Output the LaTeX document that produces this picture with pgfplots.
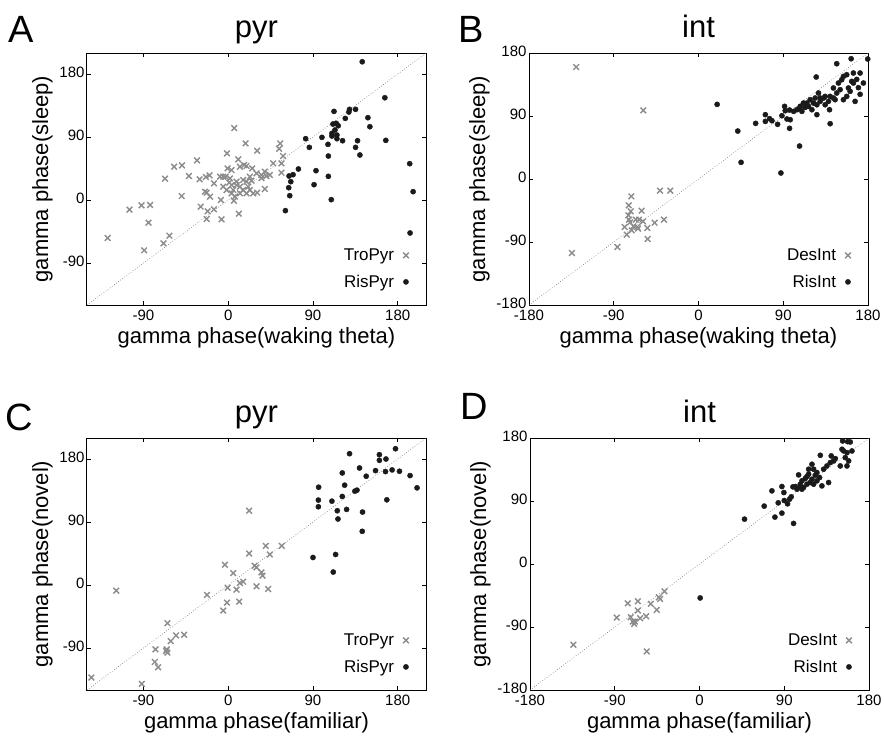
\documentclass[border=0pt]{standalone}
\usepackage{pgfplots}
\pgfplotsset{compat=1.18}
\usepackage{fontspec}
\setmainfont{Liberation Sans}
\definecolor{crossgray}{HTML}{8C8C8C}
\definecolor{dotblack}{HTML}{1A1A1A}
\pgfplotsset{
  panel/.style={
    scale only axis, width=339pt, height=252pt,
    anchor=south west,
    tick align=inside, major tick length=4pt,
    axis line style={line width=1pt},
    every tick/.style={black, line width=0.8pt},
    /pgf/number format/assume math mode=true,
    ticklabel style={font=\fontsize{15}{18}\selectfont},
    yticklabel style={xshift=1pt, yshift=1.5pt},
    xticklabel style={yshift=-1.5pt},
    label style={font=\fontsize{22}{26}\selectfont},
    title style={font=\fontsize{31}{36}\selectfont, at={(0.5,1)}, anchor=base, yshift=10pt},
    legend style={draw=none, fill=none, font=\fontsize{17}{20}\selectfont,
      at={(1,0)}, anchor=south east, xshift=-14pt, yshift=12pt, row sep=9pt,
      column sep=7pt, legend cell align=right},
    legend plot pos=right,
  },
  pyrax/.style={panel, xmin=-150, xmax=210, ymin=-150, ymax=210,
    xtick={-90,0,90,180}, ytick={-90,0,90,180}},
  intax/.style={panel, xmin=-180, xmax=180, ymin=-180, ymax=180,
    xtick={-180,-90,0,90,180}, ytick={-180,-90,0,90,180}},
  tro/.style={only marks, mark=x, mark size=4pt, color=crossgray, line width=1.4pt},
  ris/.style={only marks, mark=*, mark size=2.6pt, color=dotblack},
  diag/.style={black!60, dotted, line width=0.6pt, forget plot},
}
\begin{document}
\begin{tikzpicture}
\path[use as bounding box] (0pt,0pt) rectangle (884pt,-740pt);

% A
\node[anchor=base west, font=\fontsize{38}{44}\selectfont, inner sep=0pt] at (8pt,-42pt) {A};
\begin{axis}[pyrax, at={(87pt,-305pt)}, title={pyr},
  xlabel={gamma phase(waking theta)}, ylabel={gamma phase(sleep)}]
\addplot[diag] coordinates {(-150,-150) (210,210)};
\addplot[tro] coordinates {
(6.4,102.8) (18.4,80.9) (55.1,80.9) (54.0,73.3) (30.7,70.4) (-1.4,66.6) (58.2,62.8)
(10.6,58.1) (16.9,50.0) (19.4,48.6) (-33.2,56.6) (-57.5,47.6) (-49.1,49.5) (-67.1,30.5)
(-41.7,34.3) (-30.4,29.5) (-23.7,32.8) (-19.8,35.2) (-15.2,23.8) (-8.8,33.3) (-5.3,33.3)
(-2.8,33.3) (1.8,30.9) (3.5,42.8) (-0.7,45.2) (12.4,47.6) (25.4,45.2) (30.0,38.1)
(38.8,40.5) (44.1,35.7) (47.7,52.4) (56.5,52.4) (56.5,39.0) (40.6,34.3) (35.3,31.4)
(22.9,33.3) (19.4,26.2) (21.2,19.0) (12.4,19.0) (8.8,21.4) (5.3,14.3) (3.5,9.5)
(7.1,4.8) (12.4,9.5) (19.4,9.5) (26.5,9.5) (30.7,10.5) (38.8,15.7) (-24.7,11.9)
(-19.4,4.8) (-22.9,10.5) (-7.8,0) (6.0,-1.0) (-49.4,5.7) (-83.0,-7.1) (-92.1,-7.6)
(-104.8,-13.8) (-29.3,-9.5) (-21.9,-16.2) (-15.2,-13.3) (-22.9,-27.1) (-7.1,-27.6)
(11.3,-19.5) (-84.7,-32.4) (-62.5,-50.9) (-68.8,-61.9) (-89.3,-71.9) (-128.1,-54.3)
(-1.8,14.3) (8.8,26.2) (15.9,28.6) (24.7,27.6) (15.9,14.3) (22.9,14.3) (1.1,24.8)
(-5.3,19.0) (3.5,21.4) (35.3,35.7)
};
\addlegendentry{TroPyr}
\addplot[ris] coordinates {
(142.3,197.5) (166.3,146.1) (112.3,126.6) (128.8,129.5) (135.2,129.5) (128.1,125.7)
(124.3,116.6) (148.3,117.6) (150.4,104.7) (111.2,108.5) (114.7,109.5) (116.8,106.1)
(113.3,100.0) (110.1,95.2) (110.1,91.4) (115.4,92.8) (115.4,87.6) (121.4,84.7)
(99.5,89.5) (82.2,87.6) (86.1,75.2) (105.9,79.5) (137.3,84.7) (167.3,85.2)
(135.2,75.2) (139.8,64.3) (106.3,62.8) (74.5,44.3) (93.2,41.9) (68.8,36.2)
(64.6,34.3) (66.4,26.2) (64.2,17.6) (65.3,6.2) (91.1,21.9) (106.3,33.8) (109.4,0.5)
(60.7,-15.2) (192.7,51.9) (196.3,11.9) (193.1,-47.1)
};
\addlegendentry{RisPyr}
\end{axis}

% B
\node[anchor=base west, font=\fontsize{38}{44}\selectfont, inner sep=0pt] at (458pt,-42pt) {B};
\begin{axis}[intax, at={(529pt,-305pt)}, title={int},
  xlabel={gamma phase(waking theta)}, ylabel={gamma phase(sleep)}]
\addplot[diag] coordinates {(-180,-180) (180,180)};
\addplot[tro] coordinates {
(-129.9,159.9) (-58.6,98.1) (-134.5,-105.7) (-86.1,-97.1) (-71.3,-24.8) (-74.1,-37.6)
(-72.0,-46.2) (-74.5,-51.9) (-73.8,-58.1) (-72.7,-61.9) (-78.4,-68.5) (-76.2,-79.5)
(-71.0,-73.3) (-65.0,-68.5) (-63.2,-58.1) (-60.4,-45.2) (-59.0,-60.5) (-54.4,-70.0)
(-54.0,-85.7) (-46.6,-62.4) (-36.7,-58.1) (-40.9,-16.7) (-30.0,-16.7) (-66.7,-58.1)
(-64.2,-70.9) (-69.2,-67.6)
};
\addlegendentry{DesInt}
\addplot[ris] coordinates {
(19.8,106.6) (41.7,68.5) (45.2,23.8) (87.5,8.6) (107.3,47.1) (60.7,79.5) (71.0,91.9)
(71.0,82.3) (75.5,86.2) (78.0,83.3) (84.0,78.1) (88.6,90.4) (91.4,103.8) (92.1,97.6)
(96.7,98.5) (97.4,84.7) (96.7,72.4) (101.0,96.6) (104.5,99.0) (108.0,103.8) (109.8,96.6)
(111.5,108.5) (115.1,108.5) (118.6,113.3) (120.4,99.0) (123.9,115.7) (125.0,145.7)
(125.7,106.1) (127.4,122.8) (129.2,110.9) (132.7,115.7) (134.5,106.1) (138.0,110.9)
(139.8,118.0) (139.8,79.0) (125.7,91.9) (143.3,130.0) (145.1,113.3) (146.8,164.7)
(148.6,137.1) (150.4,127.6) (152.1,141.8) (153.9,146.6) (157.4,149.0) (159.2,130.0)
(161.0,125.2) (162.7,139.5) (164.5,137.1) (166.3,110.9) (168.0,142.3) (169.8,130.5)
(171.6,121.0) (162.1,171.8) (179.7,171.4) (180.4,150.0) (175.1,137.1) (113.3,102.3)
(116.8,103.8) (122.1,108.5) (129.2,115.7) (134.5,118.0) (143.3,115.7) (153.9,113.3)
(157.4,118.0) (164.5,151.4) (171.6,151.4) (139.1,99.0) (146.8,122.8) (107.7,101.4)
(93.9,85.7)
};
\addlegendentry{RisInt}
\end{axis}

% C
\node[anchor=base west, font=\fontsize{38}{44}\selectfont, inner sep=0pt] at (5pt,-430pt) {C};
\begin{axis}[pyrax, at={(87pt,-690pt)}, title={pyr},
  xlabel={gamma phase(familiar)}, ylabel={gamma phase(novel)}]
\addplot[diag] coordinates {(-150,-150) (210,210)};
\addplot[tro] coordinates {
(22.2,106.1) (39.9,55.9) (56.8,55.9) (44.1,43.6) (22.2,45.0) (27.9,27.5) (30.0,25.1)
(35.3,18.0) (36.4,13.3) (5.3,17.1) (-3.5,28.9) (15.9,4.7) (12.4,2.8) (8.8,-6.6)
(-0.7,-3.8) (30.0,-1.9) (42.4,-5.7) (-1.4,-25.1) (11.6,-23.7) (-5.3,-36.5) (-22.6,-14.2)
(-119.0,-8.1) (-64.6,-54.5) (-46.9,-71.1) (-55.4,-72.0) (-61.1,-80.1) (-65.3,-91.9)
(-64.6,-96.6) (-77.3,-91.9) (-78.0,-109.9) (-74.5,-117.5) (-91.8,-141.2) (-145.4,-132.2)
(-66.0,-94.3)
};
\addlegendentry{TroPyr}
\addplot[ris] coordinates {
(128.8,187.6) (177.6,194.7) (160.5,186.2) (160.5,178.1) (167.5,180.0) (139.4,167.2)
(121.1,160.1) (146.5,155.4) (156.4,163.4) (167.0,162.0) (174.0,164.4) (181.8,162.5)
(193.1,156.3) (200.5,138.8) (123.6,142.6) (96.0,139.7) (95.7,121.3) (95.7,111.8)
(110.1,119.8) (121.1,126.5) (134.5,134.1) (136.7,135.5) (168.4,121.7) (115.8,106.1)
(125.7,108.0) (142.6,104.2) (116.5,94.3) (142.3,76.7) (90.0,39.3) (114.0,43.6)
(111.5,18.5)
};
\addlegendentry{RisPyr}
\end{axis}

% D
\node[anchor=base west, font=\fontsize{38}{44}\selectfont, inner sep=0pt] at (460pt,-419pt) {D};
\begin{axis}[intax, at={(530pt,-690pt)}, title={int},
  xlabel={gamma phase(familiar)}, ylabel={gamma phase(novel)}]
\addplot[diag] coordinates {(-180,-180) (180,180)};
\addplot[tro] coordinates {
(-133.9,-115.4) (-56.0,-124.9) (-87.9,-76.5) (-76.2,-56.1) (-65.5,-53.2) (-65.5,-66.5)
(-73.0,-76.0) (-70.9,-82.2) (-69.4,-85.5) (-63.1,-77.4) (-56.7,-74.6) (-51.7,-57.0)
(-45.4,-65.6) (-43.2,-47.5) (-41.8,-49.9) (-37.2,-39.0) (-68.7,-82.2)
};
\addlegendentry{DesInt}
\addplot[ris] coordinates {
(0.7,-48.5) (47.8,64.1) (68.7,82.7) (76.9,104.5) (80.1,67.0) (87.5,72.7) (83.6,87.4)
(87.5,110.7) (89.6,102.1) (90.0,90.7) (93.5,86.0) (95.7,92.6) (97.4,96.0) (99.9,58.0)
(99.2,110.2) (101.7,110.7) (103.5,106.9) (105.2,127.3) (107.0,114.0) (108.8,118.8)
(110.5,109.3) (112.3,122.1) (114.1,114.0) (115.9,128.3) (117.6,116.4) (119.4,121.1)
(121.2,135.4) (122.9,126.8) (124.7,130.6) (127.5,123.5) (130.0,111.6) (128.3,155.3)
(131.8,135.4) (135.3,140.1) (137.1,116.4) (139.9,154.4) (138.9,144.9) (144.2,150.6)
(142.4,147.3) (149.5,140.1) (151.3,163.9) (153.1,161.5) (154.8,152.0) (156.6,140.1)
(158.4,147.3) (152.0,175.8) (157.3,174.8) (160.1,174.3) (161.9,161.5) (156.6,159.1)
(119.4,142.5) (115.9,135.4) (107.0,109.3) (114.1,125.1) (108.8,106.9) (124.7,118.8)
(121.2,114.0)
};
\addlegendentry{RisInt}
\end{axis}
\end{tikzpicture}
\end{document}
